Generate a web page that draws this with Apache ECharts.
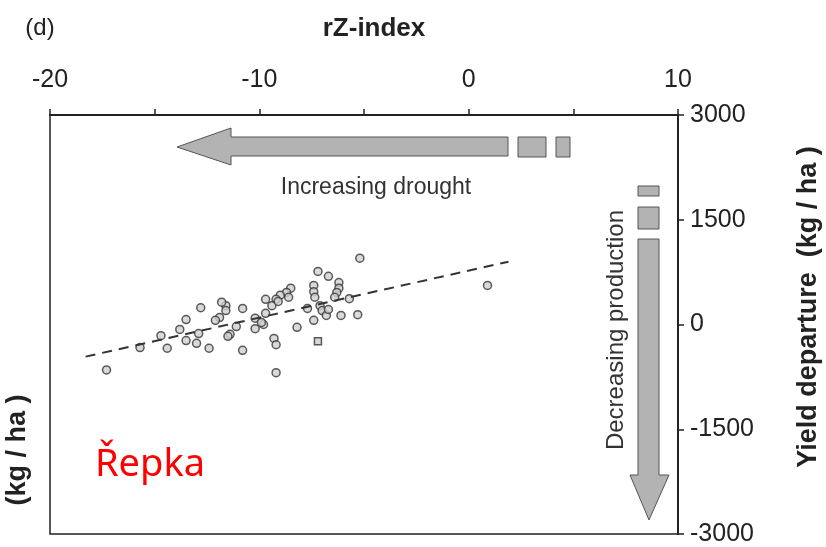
<!DOCTYPE html>
<html>
<head>
<meta charset="utf-8">
<script src="https://cdn.jsdelivr.net/npm/echarts@6/dist/echarts.min.js"></script>
<style>html,body{margin:0;padding:0;background:#fff;}#c{width:826px;height:547px;}</style>
</head>
<body>
<div id="c"></div>
<script>
// rZ-index values (x) and yield departure (kg/ha) values (y) of circle points
const rzIndex = [-5.2,-7.2,-6.7,-6.2,-6.2,-7.4,-7.4,-7.35,-6.3,-6.4,-5.7,-8.5,-8.7,-9.0,-9.2,-9.7,-9.4,-9.7,-7.7,-7.1,-7.0,-6.8,-7.4,-6.1,-5.3,-8.2,-9.3,-9.2,-9.2,-10.8,-11.6,-11.6,-12.8,-11.9,-12.1,-13.5,-13.8,-11.1,-10.2,-10.2,-9.8,-11.4,-12.9,-13.5,-13.0,-12.4,-10.8,-14.7,-14.4,-15.7,-17.3,0.9,-11.8,-11.5,-9.9,-9.1,-8.6,-6.7];
const yieldDep = [950,760,690,600,520,560,470,390,460,390,370,520,460,420,360,360,270,160,230,270,200,130,60,130,140,-40,-200,-290,-690,230,270,200,240,100,60,70,-70,-30,90,-60,0,-140,-130,-230,-270,-340,-370,-160,-340,-330,-650,560,320,-170,30,330,390,215];
// square-marked point
const sqX = [-7.2];
const sqY = [-240];
// dashed trend line end points
const trendX = [-18.3, 1.9];
const trendY = [-460, 900];
// axis settings
const xTicks = {min: -20, max: 10, step: 5};
const yTicks = {min: -3000, max: 3000, step: 1500};

const pts = rzIndex.map((x, i) => [x, yieldDep[i]]);
const sq = sqX.map((x, i) => [x, sqY[i]]);
const trend = trendX.map((x, i) => [x, trendY[i]]);

const chart = echarts.init(document.getElementById('c'));
const axisFont = {fontFamily: 'Liberation Sans, Arial, sans-serif', fontSize: 25, color: '#222'};
const fill = '#b3b3b3', stroke = '#555';
chart.setOption({
  animation: false,
  backgroundColor: '#fff',
  grid: {left: 50, right: 148, top: 115, bottom: 13, show: true, borderColor: '#222', borderWidth: 1.5},
  xAxis: {
    type: 'value', position: 'top', min: xTicks.min, max: xTicks.max, interval: xTicks.step,
    axisLine: {show: true, onZero: false, lineStyle: {color: '#222', width: 2}},
    axisTick: {show: true, length: 6, lineStyle: {color: '#222', width: 1.5}},
    axisLabel: Object.assign({margin: 22, formatter: v => (v % 10 === 0 ? String(v) : '')}, axisFont),
    splitLine: {show: false}
  },
  yAxis: {
    type: 'value', position: 'right', min: yTicks.min, max: yTicks.max, interval: yTicks.step,
    axisLine: {show: true, onZero: false, lineStyle: {color: '#222', width: 2}},
    axisTick: {show: true, length: 6, lineStyle: {color: '#222', width: 1.5}},
    axisLabel: Object.assign({margin: 12, formatter: v => String(v)}, axisFont),
    splitLine: {show: false}
  },
  series: [
    {type: 'line', data: trend, symbol: 'none', silent: true,
     lineStyle: {color: '#333', width: 2, type: [10, 7]}},
    {type: 'scatter', data: pts, symbol: 'circle', symbolSize: 8,
     itemStyle: {color: '#d0d0d0', borderColor: '#333', borderWidth: 1.5}},
    {type: 'scatter', data: sq, symbol: 'rect', symbolSize: 7,
     itemStyle: {color: '#d0d0d0', borderColor: '#333', borderWidth: 1.5}}
  ],
  graphic: [
    {type: 'text', x: 40, y: 28, style: {text: '(d)', font: '24px "Liberation Sans", Arial', fill: '#222', textAlign: 'center', textVerticalAlign: 'middle'}},
    {type: 'text', x: 374, y: 29, style: {text: 'rZ-index', font: 'bold 26px "Liberation Sans", Arial', fill: '#222', textAlign: 'center', textVerticalAlign: 'middle'}},
    {type: 'polygon', shape: {points: [[177,147],[231,128],[231,137],[508,137],[508,156],[231,156],[231,165]]}, style: {fill: fill, stroke: stroke, lineWidth: 1}},
    {type: 'rect', shape: {x: 518, y: 137, width: 28, height: 20}, style: {fill: fill, stroke: stroke, lineWidth: 1}},
    {type: 'rect', shape: {x: 556, y: 137, width: 14, height: 20}, style: {fill: fill, stroke: stroke, lineWidth: 1}},
    {type: 'text', x: 376, y: 188, style: {text: 'Increasing drought', font: '23px "Liberation Sans", Arial', fill: '#333', textAlign: 'center', textVerticalAlign: 'middle'}},
    {type: 'rect', shape: {x: 638, y: 186, width: 21, height: 10}, style: {fill: fill, stroke: stroke, lineWidth: 1}},
    {type: 'rect', shape: {x: 638, y: 207, width: 21, height: 22}, style: {fill: fill, stroke: stroke, lineWidth: 1}},
    {type: 'polygon', shape: {points: [[638,239],[659,239],[659,475],[669,475],[649,520],[630,475],[638,475]]}, style: {fill: fill, stroke: stroke, lineWidth: 1}},
    {type: 'text', x: 616, y: 330, rotation: Math.PI / 2, style: {text: 'Decreasing production', font: '24px "Liberation Sans", Arial', fill: '#333', textAlign: 'center', textVerticalAlign: 'middle'}},
    {type: 'text', x: 809, y: 307, rotation: Math.PI / 2, style: {text: 'Yield departure  (kg / ha )', font: 'bold 27px "Liberation Sans", Arial', fill: '#222', textAlign: 'center', textVerticalAlign: 'middle'}},
    {type: 'text', x: 18, y: 450, rotation: Math.PI / 2, style: {text: '(kg / ha )', font: 'bold 27px "Liberation Sans", Arial', fill: '#222', textAlign: 'center', textVerticalAlign: 'middle'}},
    {type: 'text', x: 150, y: 465, style: {text: 'Řepka', font: '38px "Noto Sans", "Open Sans", sans-serif', fill: '#ff0000', textAlign: 'center', textVerticalAlign: 'middle'}}
  ]
});
</script>
</body>
</html>
